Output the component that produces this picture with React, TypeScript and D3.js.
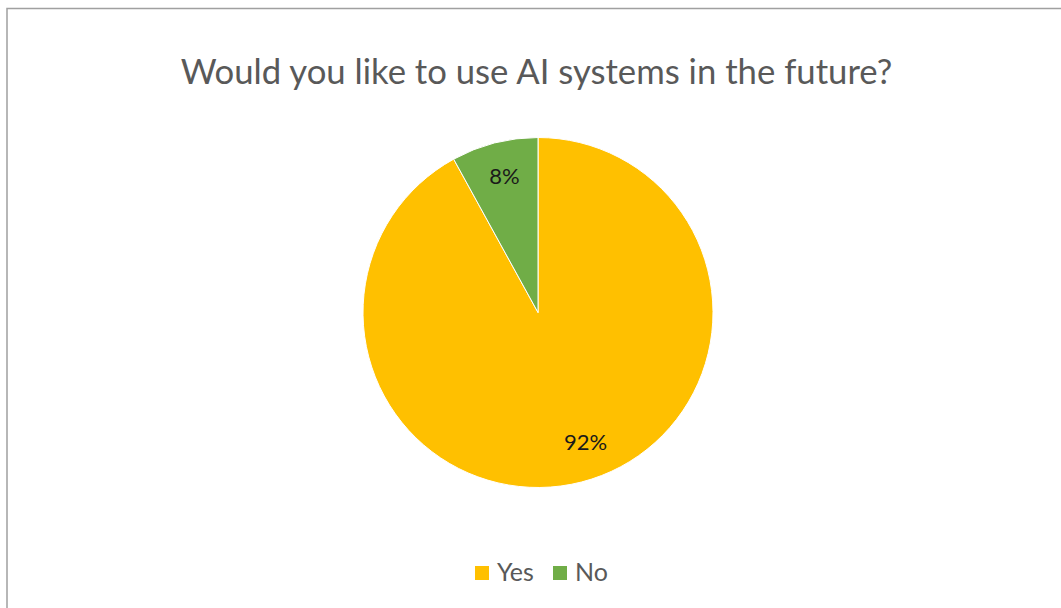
import React from 'react';
import * as d3 from 'd3';

const categories: string[] = ['Yes', 'No'];
const values: number[] = [92, 8];
const colors: string[] = ['#FFC000', '#70AD47'];
const title = 'Would you like to use AI systems in the future?';

const width = 1061;
const height = 608;
const cx = 538;
const cy = 312.5;
const radius = 175;

// best-fit style nudges for the data labels (radians, radius fraction)
const labelNudge = [{ da: -0.1, r: 0.79 }, { da: 0.01, r: 0.8 }];

function App() {
    const pie = d3.pie<number>().sort(null).value((d: number) => d);
    const arcs = pie(values);
    const arc = d3.arc<d3.PieArcDatum<number>>().innerRadius(0).outerRadius(radius);
    const total = d3.sum(values);

    const font = 'Lato, "Open Sans", sans-serif';

    const legendX = [475, 553];

    return (
        <svg width={width} height={height} style={{ position: 'absolute', left: 0, top: 0 }}>
            <rect x={0} y={0} width={width} height={height} fill="#fff" />
            <rect x={7} y={8.5} width={width + 10} height={height + 10} fill="none" stroke="#a0a0a0" strokeWidth={1.5} />
            <text x={536.5} y={84} textAnchor="middle" fontFamily={font} fontSize={34.7} fill="#595959">{title}</text>
            <g transform={`translate(${cx},${cy})`}>
                {arcs.map((a, i) => (
                    <path key={categories[i]} d={arc(a) as string} fill={colors[i]} stroke="#fff" strokeWidth={1} />
                ))}
                {arcs.map((a, i) => {
                    const mid = (a.startAngle + a.endAngle) / 2 + labelNudge[i].da;
                    const rr = radius * labelNudge[i].r;
                    const lx = rr * Math.sin(mid);
                    const ly = -rr * Math.cos(mid);
                    return (
                        <text key={'l' + i} x={lx} y={ly} dy="0.35em" textAnchor="middle" fontFamily={font} fontSize={22} fill="#1a1a1a">
                            {`${Math.round((values[i] / total) * 100)}%`}
                        </text>
                    );
                })}
            </g>
            {categories.map((c, i) => (
                <g key={c} transform={`translate(${legendX[i]},566)`}>
                    <rect x={0} y={0} width={14} height={14} fill={colors[i]} />
                    <text x={22} y={15} fontFamily={font} fontSize={25} fill="#595959">{c}</text>
                </g>
            ))}
        </svg>
    );
}

export default App;
